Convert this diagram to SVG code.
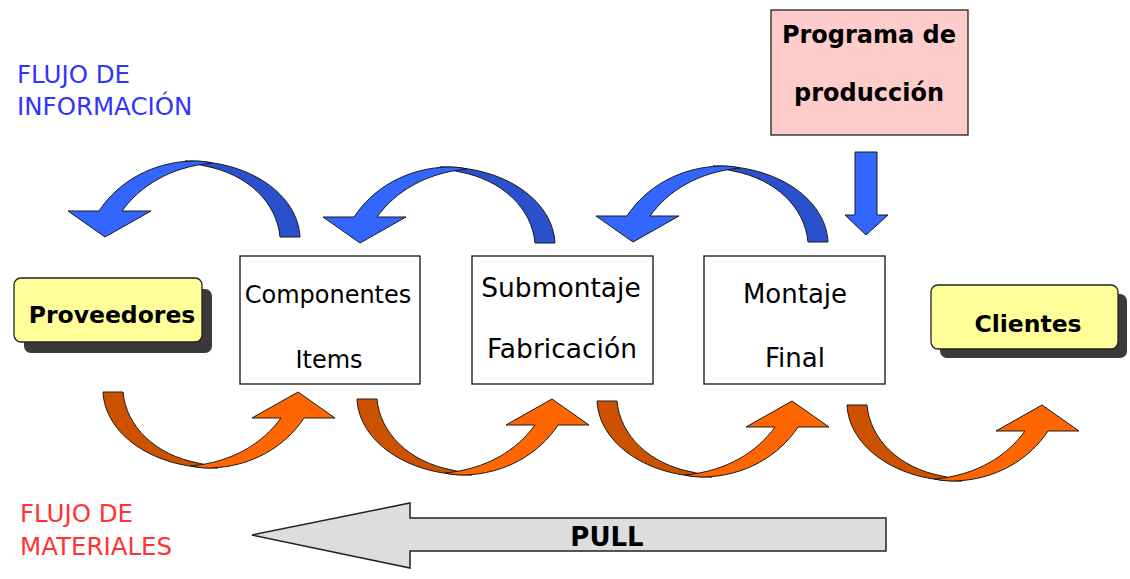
<svg xmlns="http://www.w3.org/2000/svg" xmlns:xlink="http://www.w3.org/1999/xlink" width="1130" height="579" viewBox="0 0 1130 579">
<style>
text{font-family:"DejaVu Sans","Liberation Sans",sans-serif;fill:#000;}
.b{font-weight:bold;}
.lbl{font-size:24.5px;}
.box{fill:#fff;stroke:#111;stroke-width:1.3;}
.yel{fill:#FFFF99;stroke:#222;stroke-width:1.3;}
.shd{fill:#3a3a3a;}
.blue{fill:#3366FF;color:#2B50CC;}
.orange{fill:#FF6600;color:#CC5200;}
.arr{stroke:#1a1a1a;stroke-width:1;stroke-linejoin:round;}
</style>
<defs>
<g id="curl">
<path d="M185,161 C250,160 298,195 300,237 L280,237 C277,203 248,174 205,166 C196,164 190,162 185,161 Z" fill="currentColor"/>
<path d="M212,163 C204,161 198,161 193,161 C152,162 118,182 99,211 L68,211 L105,237 L151,211 L122,211 C140,186 170,167 212,163 Z"/>
</g>
</defs>
<rect width="1130" height="579" fill="#fff"/>
<g id="labels">
<text x="17" y="83" class="lbl" style="fill:#3333FF">FLUJO DE</text>
<text x="17" y="115" class="lbl" style="fill:#3333FF">INFORMACIÓN</text>
<text x="20" y="522" class="lbl" style="fill:#FF3333">FLUJO DE</text>
<text x="20" y="555" class="lbl" style="fill:#FF3333">MATERIALES</text>
</g>
<g id="connectors">
<use xlink:href="#curl" class="blue arr"/>
<use xlink:href="#curl" class="blue arr" transform="translate(255,6)"/>
<use xlink:href="#curl" class="blue arr" transform="translate(528,5)"/>
<polygon class="arr" fill="#3366FF" points="855,152 877,152 877,215 888,215 866,235 845,215 855,215"/>
<use xlink:href="#curl" class="orange arr" transform="translate(403,629) rotate(180)"/>
<use xlink:href="#curl" class="orange arr" transform="translate(657,636) rotate(180)"/>
<use xlink:href="#curl" class="orange arr" transform="translate(897,638) rotate(180)"/>
<use xlink:href="#curl" class="orange arr" transform="translate(1147,642) rotate(180)"/>
</g>
<g id="pull">
<polygon points="252,535 410,503 410,518 886,518 886,551 410,551 410,568" fill="#DDDDDD" stroke="#222" stroke-width="1.5" stroke-linejoin="miter"/>
<text x="607" y="546" class="b" font-size="26" text-anchor="middle">PULL</text>
</g>
<g id="programa">
<rect x="771" y="10" width="197" height="125" fill="#FFCCCC" stroke="#222" stroke-width="1.3"/>
<text x="869" y="43" class="b" font-size="24" text-anchor="middle">Programa de</text>
<text x="869" y="101" class="b" font-size="24" text-anchor="middle">producción</text>
</g>
<g id="proveedores">
<rect x="24" y="289" width="188" height="64" rx="7" class="shd"/>
<rect x="14" y="278" width="188" height="64" rx="7" class="yel"/>
<text x="112" y="323" class="b" font-size="23.5" text-anchor="middle">Proveedores</text>
</g>
<g id="componentes">
<rect x="240" y="256" width="180" height="128" class="box"/>
<text x="328" y="303" font-size="24" text-anchor="middle">Componentes</text>
<text x="329" y="368" font-size="24" text-anchor="middle">Items</text>
</g>
<g id="submontaje">
<rect x="472" y="256" width="181" height="128" class="box"/>
<text x="561" y="297" font-size="26.5" text-anchor="middle">Submontaje</text>
<text x="562" y="358" font-size="26.5" text-anchor="middle">Fabricación</text>
</g>
<g id="montaje">
<rect x="704" y="256" width="181" height="128" class="box"/>
<text x="795" y="303" font-size="26" text-anchor="middle">Montaje</text>
<text x="795" y="367" font-size="26" text-anchor="middle">Final</text>
</g>
<g id="clientes">
<rect x="940" y="294" width="187" height="64" rx="7" class="shd"/>
<rect x="931" y="285" width="187" height="64" rx="7" class="yel"/>
<text x="1028" y="332" class="b" font-size="23.5" text-anchor="middle">Clientes</text>
</g>
</svg>
